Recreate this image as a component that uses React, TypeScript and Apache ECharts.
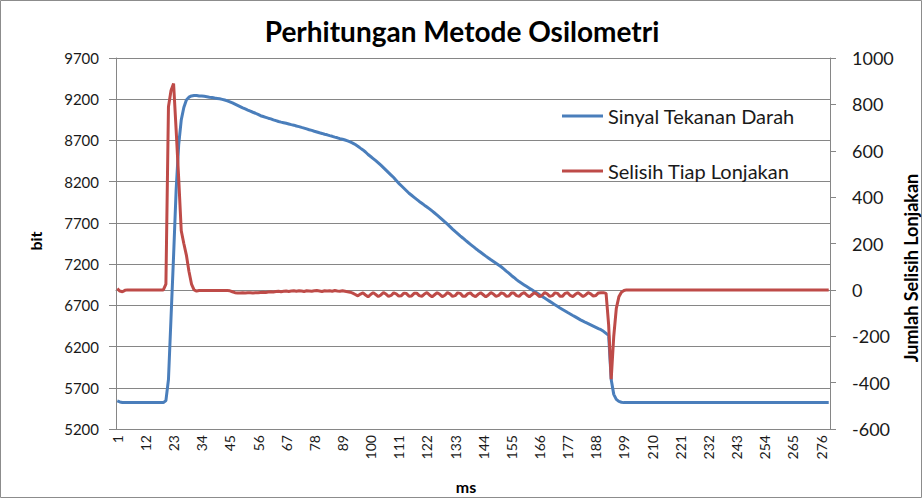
import React, { useEffect, useRef } from "react";
import * as echarts from "echarts";

// x categories: sample index (ms), 1..279
const msCategories: string[] = Array.from({ length: 279 }, (_, i) => String(i + 1));

// left axis ticks (bit)
const bitMin = 5200;
const bitMax = 9700;
const bitStep = 500;

// right axis ticks (Jumlah Selisih Lonjakan)
const selMin = -600;
const selMax = 1000;
const selStep = 200;

// Sinyal Tekanan Darah (bit), categories 1..279
const sinyalTekananDarah: number[] = [
  5540, 5528, 5522, 5520, 5520, 5520, 5520, 5520, 5520, 5520,
  5520, 5520, 5520, 5520, 5520, 5520, 5520, 5520, 5520, 5545,
  5800, 6550, 7300, 8100, 8650, 8950, 9100, 9190, 9225, 9240,
  9245, 9245, 9240, 9238, 9235, 9230, 9225, 9222, 9215, 9210,
  9205, 9198, 9190, 9180, 9168, 9155, 9140, 9125, 9110, 9095,
  9082, 9068, 9055, 9042, 9030, 9015, 9000, 8990, 8980, 8970,
  8962, 8950, 8940, 8930, 8922, 8915, 8908, 8900, 8892, 8885,
  8875, 8868, 8858, 8850, 8840, 8830, 8822, 8812, 8803, 8793,
  8785, 8775, 8768, 8758, 8750, 8740, 8732, 8722, 8715, 8705,
  8695, 8683, 8668, 8650, 8630, 8607, 8585, 8560, 8530, 8505,
  8480, 8455, 8428, 8400, 8370, 8340, 8310, 8280, 8250, 8215,
  8180, 8150, 8120, 8090, 8060, 8035, 8010, 7985, 7960, 7938,
  7915, 7893, 7870, 7845, 7820, 7795, 7768, 7740, 7712, 7685,
  7655, 7625, 7597, 7570, 7543, 7517, 7490, 7465, 7440, 7415,
  7390, 7366, 7343, 7320, 7297, 7275, 7253, 7232, 7211, 7190,
  7168, 7142, 7115, 7090, 7062, 7038, 7012, 6988, 6968, 6948,
  6928, 6908, 6888, 6868, 6848, 6828, 6808, 6788, 6768, 6748,
  6728, 6708, 6688, 6668, 6650, 6632, 6613, 6595, 6577, 6560,
  6542, 6524, 6508, 6492, 6478, 6463, 6448, 6433, 6418, 6404,
  6385, 6360, 6335, 5800, 5620, 5560, 5535, 5525, 5520, 5520,
  5520, 5520, 5520, 5520, 5520, 5520, 5520, 5520, 5520, 5520,
  5520, 5520, 5520, 5520, 5520, 5520, 5520, 5520, 5520, 5520,
  5520, 5520, 5520, 5520, 5520, 5520, 5520, 5520, 5520, 5520,
  5520, 5520, 5520, 5520, 5520, 5520, 5520, 5520, 5520, 5520,
  5520, 5520, 5520, 5520, 5520, 5520, 5520, 5520, 5520, 5520,
  5520, 5520, 5520, 5520, 5520, 5520, 5520, 5520, 5520, 5520,
  5520, 5520, 5520, 5520, 5520, 5520, 5520, 5520, 5520, 5520,
  5520, 5520, 5520, 5520, 5520, 5520, 5520, 5520, 5520,
];

// Selisih Tiap Lonjakan, categories 1..279
const selisihTiapLonjakan: number[] = [
  5, -5, -8, -2, 0, 0, 0, 0, 0, 0,
  0, 0, 0, 0, 0, 0, 0, 0, 0, 25,
  790, 860, 890, 690, 480, 255, 200, 150, 80, 25,
  0, -5, -3, -3, -3, -3, -3, -3, -3, -3,
  -3, -3, -3, -3, -4, -8, -12, -13, -13, -12,
  -13, -12, -12, -13, -12, -12, -11, -10, -11, -9,
  -8, -9, -7, -6, -8, -6, -5, -7, -5, -4,
  -6, -4, -5, -7, -4, -5, -6, -4, -3, -5,
  -7, -4, -5, -4, -6, -3, -5, -6, -4, -6,
  -8, -10, -14, -20, -26, -18, -13, -22, -30, -20,
  -12, -20, -29, -22, -12, -18, -28, -24, -13, -17,
  -27, -25, -14, -16, -27, -26, -15, -14, -25, -28,
  -18, -12, -22, -30, -21, -12, -19, -29, -23, -12,
  -17, -28, -25, -13, -15, -27, -27, -16, -13, -24,
  -29, -19, -12, -21, -30, -22, -12, -18, -28, -24,
  -13, -16, -27, -26, -14, -14, -25, -28, -17, -12,
  -22, -30, -21, -12, -19, -29, -23, -12, -17, -28,
  -25, -13, -15, -27, -27, -15, -12, -24, -29, -19,
  -12, -20, -29, -22, -12, -17, -27, -24, -13, -12,
  -12, -15, -150, -385, -200, -80, -30, -10, -3, 0,
  0, 0, 0, 0, 0, 0, 0, 0, 0, 0,
  0, 0, 0, 0, 0, 0, 0, 0, 0, 0,
  0, 0, 0, 0, 0, 0, 0, 0, 0, 0,
  0, 0, 0, 0, 0, 0, 0, 0, 0, 0,
  0, 0, 0, 0, 0, 0, 0, 0, 0, 0,
  0, 0, 0, 0, 0, 0, 0, 0, 0, 0,
  0, 0, 0, 0, 0, 0, 0, 0, 0, 0,
  0, 0, 0, 0, 0, 0, 0, 0, 0,
];

const seriesNames = ["Sinyal Tekanan Darah", "Selisih Tiap Lonjakan"];
const seriesColors = ["#4A7EBB", "#BE4B48"];

const FONT = "Lato";
const AXIS_GRAY = "#868686";
const TEXT = "#1a1a1a";

const plain = (v: number) => String(v);

export default function App() {
  const ref = useRef<HTMLDivElement>(null);

  useEffect(() => {
    document.body.style.margin = "0";
    if (!ref.current) return;
    const chart = echarts.init(ref.current, undefined, { renderer: "svg" });
    chart.setOption({
      animation: false,
      backgroundColor: "#ffffff",
      textStyle: { fontFamily: FONT },
      title: {
        text: "Perhitungan Metode Osilometri",
        left: "center",
        top: 12,
        textStyle: { fontSize: 28, fontWeight: "bold", color: "#000", fontFamily: FONT },
      },
      grid: { left: 116, right: 94, top: 58, bottom: 71 },
      legend: {
        orient: "vertical",
        left: 557,
        top: 101,
        itemGap: 35,
        itemWidth: 41,
        itemHeight: 3,
        icon: "rect",
        data: seriesNames,
        textStyle: { fontSize: 20, color: TEXT, fontFamily: FONT },
      },
      xAxis: {
        type: "category",
        data: msCategories,
        boundaryGap: true,
        axisLine: { lineStyle: { color: AXIS_GRAY, width: 1 } },
        axisTick: { interval: 0, length: 6, lineStyle: { color: AXIS_GRAY } },
        axisLabel: {
          interval: 10,
          rotate: 90,
          fontSize: 14,
          color: TEXT,
          margin: 6,
          fontFamily: FONT,
        },
        splitLine: { show: false },
      },
      yAxis: [
        {
          type: "value",
          min: bitMin,
          max: bitMax,
          interval: bitStep,
          axisLine: { show: true, lineStyle: { color: AXIS_GRAY } },
          axisTick: { show: true, length: 7, lineStyle: { color: AXIS_GRAY } },
          axisLabel: { fontSize: 15, color: TEXT, margin: 17, fontFamily: FONT, formatter: plain },
          splitLine: { show: true, lineStyle: { color: AXIS_GRAY, width: 1 } },
        },
        {
          type: "value",
          position: "right",
          min: selMin,
          max: selMax,
          interval: selStep,
          axisLine: { show: true, lineStyle: { color: AXIS_GRAY } },
          axisTick: { show: true, length: 6, lineStyle: { color: AXIS_GRAY } },
          axisLabel: { fontSize: 18, color: TEXT, margin: 22, fontFamily: FONT, formatter: plain },
          splitLine: { show: false },
        },
      ],
      series: [
        {
          name: seriesNames[0],
          type: "line",
          yAxisIndex: 0,
          data: sinyalTekananDarah,
          symbol: "none",
          showSymbol: false,
          lineStyle: { width: 3, color: seriesColors[0] },
          itemStyle: { color: seriesColors[0] },
        },
        {
          name: seriesNames[1],
          type: "line",
          yAxisIndex: 1,
          data: selisihTiapLonjakan,
          symbol: "none",
          showSymbol: false,
          lineStyle: { width: 3, color: seriesColors[1] },
          itemStyle: { color: seriesColors[1] },
        },
      ],
      graphic: [
        {
          type: "rect",
          shape: { x: 0.5, y: 0.5, width: 921, height: 497 },
          style: { fill: "none", stroke: "#8c8c8c", lineWidth: 1 },
          silent: true,
        },
        {
          type: "text",
          x: 35,
          y: 241,
          rotation: Math.PI / 2,
          style: {
            text: "bit",
            fontSize: 16,
            fontWeight: "bold",
            fill: "#000",
            fontFamily: FONT,
            align: "center",
            verticalAlign: "middle",
          },
        },
        {
          type: "text",
          x: 911,
          y: 268,
          rotation: Math.PI / 2,
          style: {
            text: "Jumlah Selisih Lonjakan",
            fontSize: 18,
            fontWeight: "bold",
            fill: "#000",
            fontFamily: FONT,
            align: "center",
            verticalAlign: "middle",
          },
        },
        {
          type: "text",
          x: 466,
          y: 486,
          style: {
            text: "ms",
            fontSize: 16,
            fontWeight: "bold",
            fill: "#000",
            fontFamily: FONT,
            align: "center",
            verticalAlign: "middle",
          },
        },
      ],
    });
    return () => {
      chart.dispose();
    };
  }, []);

  return <div ref={ref} style={{ width: 924, height: 500 }} />;
}
